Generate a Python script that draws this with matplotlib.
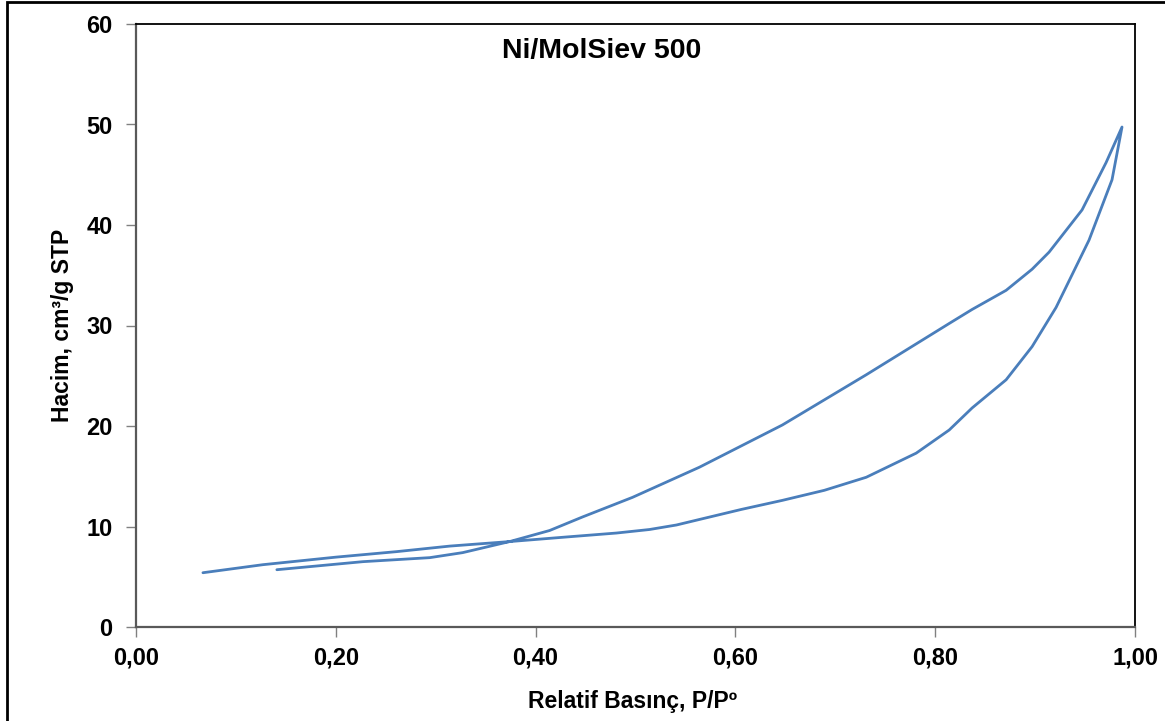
import matplotlib.pyplot as plt
from matplotlib.patches import Rectangle

plt.rcParams['font.family'] = ['Liberation Sans', 'DejaVu Sans']

# adsorption branch (lower loop at high P/Po)
ads_x = [0.067, 0.127, 0.200, 0.261, 0.314, 0.374, 0.430, 0.481, 0.514, 0.541,
         0.564, 0.606, 0.647, 0.689, 0.731, 0.781, 0.814, 0.837, 0.871, 0.897,
         0.921, 0.954, 0.977, 0.987]
ads_y = [5.4, 6.2, 6.95, 7.5, 8.05, 8.5, 8.95, 9.35, 9.7, 10.15,
         10.7, 11.7, 12.6, 13.6, 14.9, 17.3, 19.6, 21.8, 24.6, 27.9,
         31.8, 38.5, 44.5, 49.75]

# desorption branch (upper loop), from the top point back down
des_x = [0.987, 0.971, 0.947, 0.914, 0.897, 0.871, 0.837, 0.814, 0.731, 0.647,
         0.564, 0.497, 0.447, 0.414, 0.374, 0.327, 0.294, 0.227, 0.141]
des_y = [49.75, 46.2, 41.5, 37.3, 35.6, 33.5, 31.6, 30.2, 25.1, 20.1,
         15.9, 12.9, 10.95, 9.6, 8.5, 7.4, 6.9, 6.5, 5.7]

xticks = [0.0, 0.2, 0.4, 0.6, 0.8, 1.0]
xtick_labels = ['0,00', '0,20', '0,40', '0,60', '0,80', '1,00']
yticks = [0, 10, 20, 30, 40, 50, 60]

fig = plt.figure(figsize=(11.65, 7.21), dpi=100)
ax = fig.add_axes([136 / 1165, 94 / 721, 999 / 1165, 603 / 721])

line_color = '#4A7EBB'
ax.plot(ads_x + des_x, ads_y + des_y, color=line_color, lw=2.0,
        solid_joinstyle='round', solid_capstyle='round')

ax.set_xlim(0, 1)
ax.set_ylim(0, 60)
ax.set_xticks(xticks, xtick_labels)
ax.set_yticks(yticks)

for lab in ax.get_xticklabels() + ax.get_yticklabels():
    lab.set_fontweight('bold')
    lab.set_fontsize(17)

ax.tick_params(axis='x', direction='out', length=7, width=1, color='#808080', pad=7)
ax.tick_params(axis='y', direction='out', length=7, width=1, color='#808080', pad=10)

ax.spines['left'].set_color('#595959')
ax.spines['bottom'].set_color('#595959')
ax.spines['left'].set_linewidth(1.6)
ax.spines['bottom'].set_linewidth(1.6)
ax.spines['top'].set_color('black')
ax.spines['right'].set_color('black')
ax.spines['top'].set_linewidth(1.3)
ax.spines['right'].set_linewidth(1.3)

ax.set_xlabel('Relatif Basınç, P/Pº', fontsize=16.5, fontweight='bold', labelpad=13)
ax.set_ylabel('Hacim, cm³/g STP', fontsize=16.5, fontweight='bold', labelpad=9)
ax.xaxis.set_label_coords(0.497, -0.105)

ax.text(0.466, 0.955, 'Ni/MolSiev 500', transform=ax.transAxes, ha='center', va='center',
        fontsize=20.5, fontweight='bold')

# outer chart border
fig.patches.append(Rectangle((7 / 1165, -0.05), 1.2, (719 / 721) + 0.05,
                             transform=fig.transFigure, fill=False,
                             edgecolor='black', lw=2))

plt.savefig('out.png', dpi=100)
